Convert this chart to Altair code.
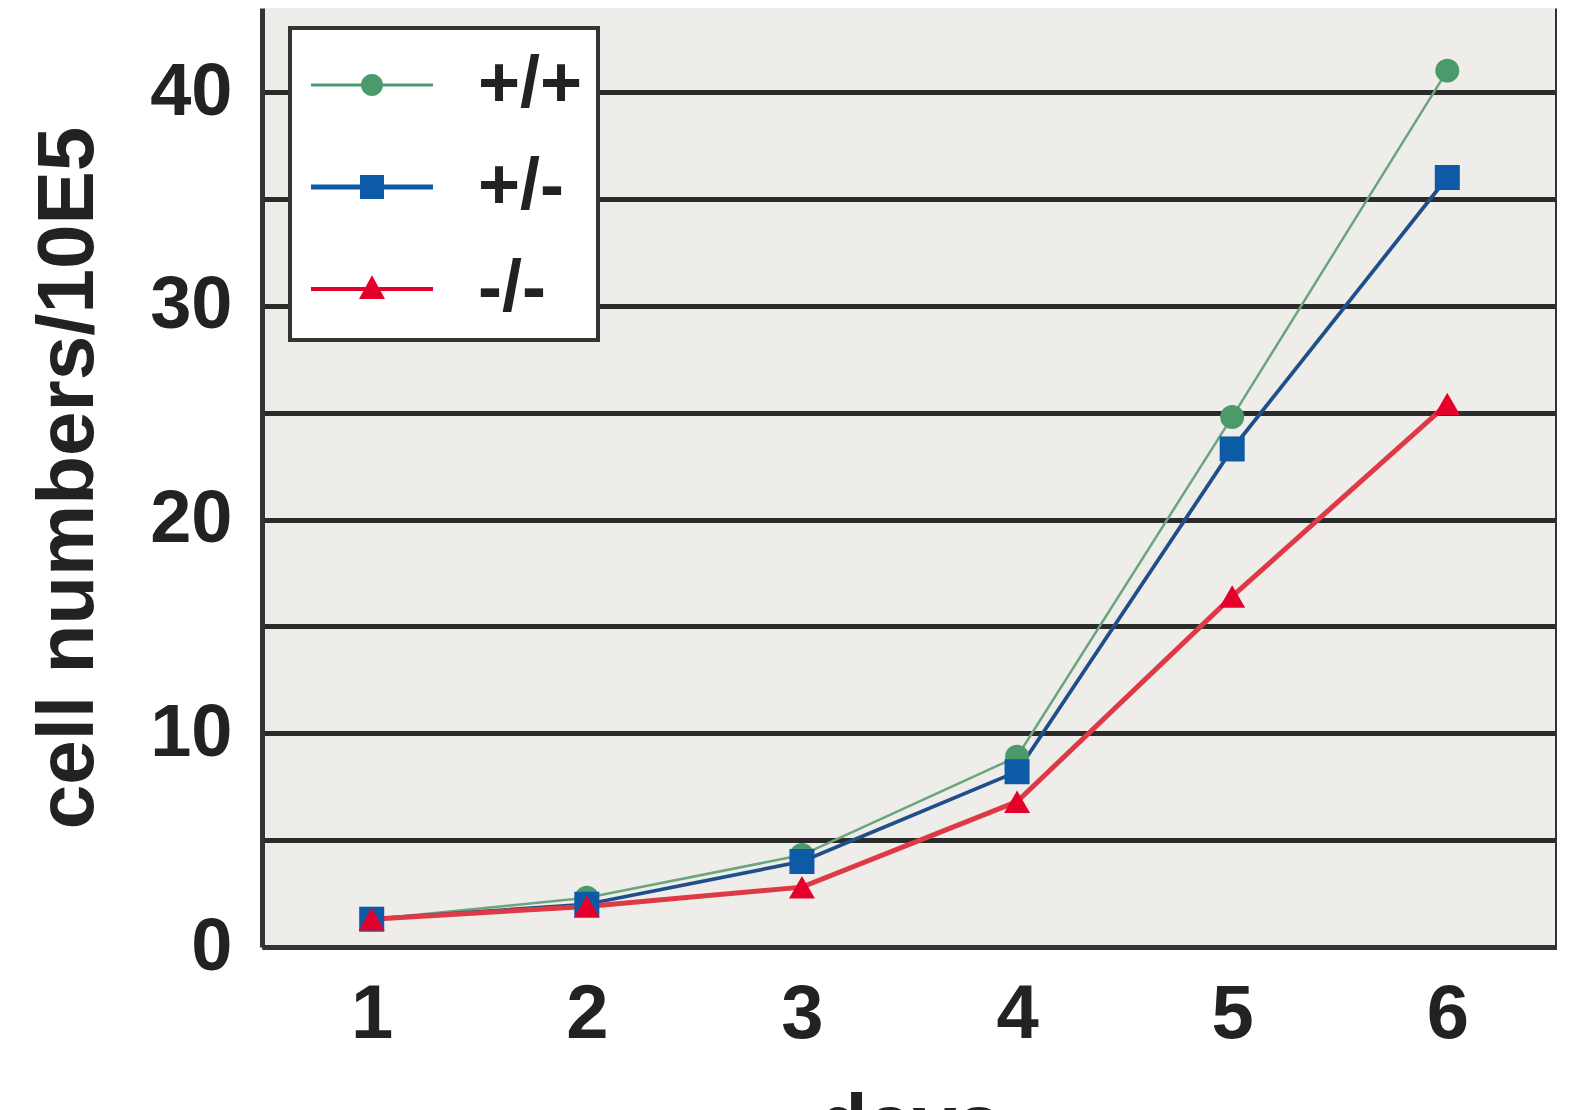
import altair as alt
import pandas as pd

days = [1, 2, 3, 4, 5, 6]
genotypes = ["+/+", "+/-", "-/-"]
wt = [1.3, 2.3, 4.3, 8.9, 24.8, 41.0]
het = [1.3, 2.0, 4.0, 8.2, 23.3, 36.0]
ko = [1.3, 1.9, 2.8, 6.8, 16.4, 25.4]

line_colors = ["#6aa57c", "#1f4f8a", "#de3a46"]
point_colors = ["#4a9a6c", "#0d5aa7", "#e4002b"]
line_widths = [2.5, 5, 3.5]
shapes = ["circle", "square", "triangle-up"]
point_sizes = [576, 676, 784]
legend_paths = [
    "M-1.452,-0.036H1.452V0.036H-1.452Z M-0.262,0A0.262,0.262 0 1,1 0.262,0A0.262,0.262 0 1,1 -0.262,0Z",
    "M-1.452,-0.06H1.452V0.06H-1.452Z M-0.286,-0.286H0.286V0.286H-0.286Z",
    "M-1.452,-0.048H1.452V0.048H-1.452Z M0,-0.33L0.31,0.24H-0.31Z",
]

rows = []
for g, vals in zip(genotypes, [wt, het, ko]):
    for d, v in zip(days, vals):
        rows.append({"day": d, "cells": v, "genotype": g})
df = pd.DataFrame(rows)

FONT = "Liberation Sans"

x_enc = alt.X(
    "day:Q",
    scale=alt.Scale(domain=[0.49, 6.51], nice=False, zero=False),
    axis=alt.Axis(
        values=days, format="d", title="days", ticks=False, grid=False,
        labelFontSize=76, labelFont=FONT, labelFontWeight="bold", labelColor="#222",
        labelPadding=30, domain=True, domainColor="#333", domainWidth=5,
        titleFontSize=80, titleFont=FONT, titleFontWeight="bold", titleColor="#222",
        titlePadding=34,
    ),
)
y_scale = alt.Scale(domain=[0, 43.93], nice=False, zero=True)
y_enc = alt.Y(
    "cells:Q",
    scale=y_scale,
    axis=alt.Axis(
        orient="left",
        values=[0, 5, 10, 15, 20, 25, 30, 35, 40],
        labelExpr="datum.value % 10 == 0 ? datum.label : ''",
        ticks=False, grid=True, gridColor="#2b2b2b", gridWidth=5,
        domain=True, domainColor="#333", domainWidth=5,
        labelFontSize=74, labelFont=FONT, labelFontWeight="bold", labelColor="#222",
        labelPadding=30,
        title="cell numbers/10E5", titleFontSize=80, titleFont=FONT,
        titleFontWeight="bold", titleColor="#222", titlePadding=40,
    ),
)

lines = alt.Chart(df).mark_line().encode(
    x=x_enc,
    y=y_enc,
    color=alt.Color("genotype:N", scale=alt.Scale(domain=genotypes, range=line_colors), legend=None),
    strokeWidth=alt.StrokeWidth("genotype:N", scale=alt.Scale(domain=genotypes, range=line_widths), legend=None),
    order=alt.Order("day:Q"),
)

points = alt.Chart(df).mark_point(filled=True, opacity=1).encode(
    x=alt.X("day:Q"),
    y=alt.Y("cells:Q", axis=None),
    color=alt.Color("genotype:N", scale=alt.Scale(domain=genotypes, range=point_colors), legend=None),
    shape=alt.Shape("genotype:N", scale=alt.Scale(domain=genotypes, range=shapes), legend=None),
    size=alt.Size("genotype:N", scale=alt.Scale(domain=genotypes, range=point_sizes), legend=None),
)

leg = alt.Legend(
    title=None, orient="none", legendX=28, legendY=20,
    fillColor="white", strokeColor="#333", padding=15,
    symbolSize=7056, symbolOffset=25, symbolStrokeWidth=0, symbolOpacity=1,
    labelOffset=64, rowPadding=24,
    labelFontSize=72, labelFont=FONT, labelFontWeight="bold", labelColor="#222",
    labelExpr="datum.label + '\u00a0'",
)

legend_layer = alt.Chart(df).transform_filter("false").mark_point(filled=True).encode(
    x=alt.X("day:Q"),
    y=alt.Y(
        "cells:Q",
        axis=alt.Axis(orient="right", labels=False, ticks=False, grid=False, title=None,
                      domain=True, domainColor="#333", domainWidth=5),
    ),
    color=alt.Color("genotype:N", scale=alt.Scale(domain=genotypes, range=point_colors), legend=leg),
    shape=alt.Shape("genotype:N", scale=alt.Scale(domain=genotypes, range=legend_paths), legend=leg),
)

chart = (
    alt.layer(lines, points, legend_layer)
    .resolve_scale(color="independent", shape="independent")
    .resolve_axis(y="independent")
    .properties(width=1295, height=939, padding={"left": 20, "top": 0, "right": 0, "bottom": 0})
    .configure(background="white")
    .configure_view(fill="#efedea", stroke=None)
    .configure_legend(strokeWidth=4)
)

chart.save("out.html", embed_options={"renderer": "svg", "actions": False})
